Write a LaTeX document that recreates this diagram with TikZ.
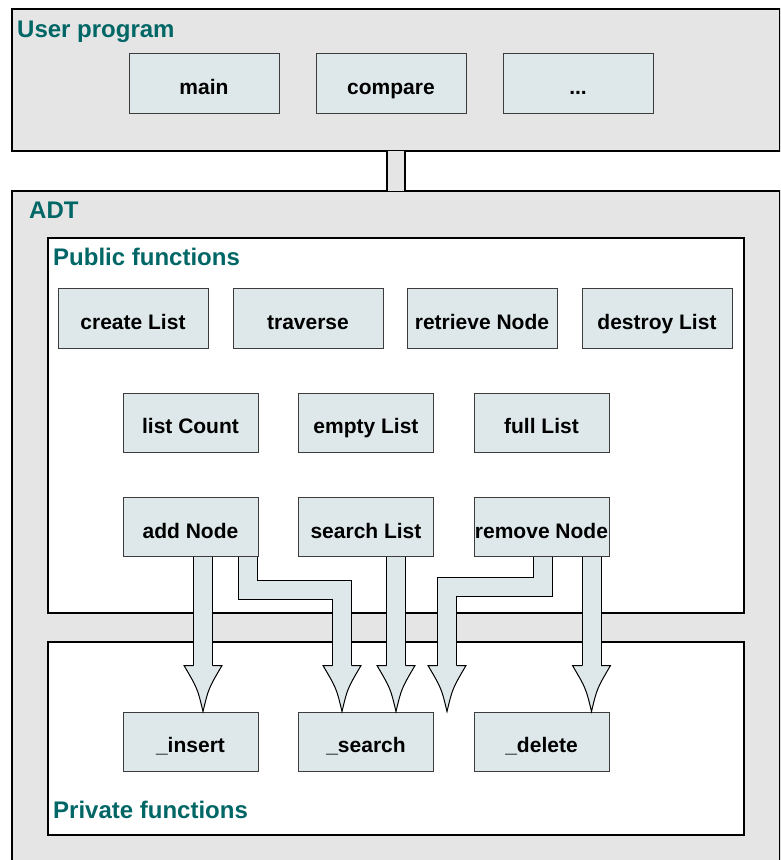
\documentclass[tikz,border=0pt]{standalone}
\usepackage{fontspec}
\setmainfont{Liberation Sans}
\definecolor{panelgray}{RGB}{229,229,229}
\definecolor{boxfill}{RGB}{222,232,234}
\definecolor{boxline}{RGB}{60,60,60}
\definecolor{titleteal}{RGB}{0,102,102}
\tikzset{
  panelbox/.style={draw=black, line width=2pt, fill=panelgray, anchor=north west, inner sep=0pt},
  groupbox/.style={panelbox, fill=white},
  titletext/.style={anchor=base west, inner sep=0pt, text=titleteal, font=\fontsize{24}{28}\selectfont\bfseries},
  fnbox/.style={draw=boxline, line width=1pt, fill=boxfill, minimum width=135pt, minimum height=59pt, inner sep=0pt, text height=22pt, text depth=0pt, font=\fontsize{21}{25}\selectfont\bfseries},
  widebox/.style={fnbox, minimum width=150pt, minimum height=60pt},
  linkstrip/.style={draw=black, line width=2pt, double=panelgray, double distance=16pt},
  shaftline/.style={draw=black, line width=1pt, double=boxfill, double distance=18pt, line join=miter},
  headshape/.style={draw=black, line width=1pt, fill=boxfill, line join=miter}
}
\newcommand{\blockhead}[1]{\filldraw[headshape] ([shift={(-9.5,-46)}]#1) -- ++(-9.5,0) .. controls ([shift={(-5.5,-23)}]#1) .. (#1) .. controls ([shift={(5.5,-23)}]#1) .. ([shift={(19,-46)}]#1) -- ++(-9.5,0);}

\begin{document}
\begin{tikzpicture}[x=1pt,y=-1pt]
\useasboundingbox (0,0) rectangle (780,860);
\clip (0,0) rectangle (780,860);
\node[panelbox, minimum width=768pt, minimum height=142pt] (user) at (11,8) {};
\node[panelbox, minimum width=768pt, minimum height=680pt] (adt) at (11,190) {};
\node[groupbox, minimum width=696pt, minimum height=375pt] (public) at (47,237) {};
\node[groupbox, minimum width=696pt, minimum height=193pt] (private) at (47,641) {};
\draw[linkstrip] ([yshift=1pt]user.south) -- ([yshift=-1pt]adt.north);
\node[titletext] (usertitle) at (17,37) {User program};
\node[titletext] (adttitle) at (29,218) {ADT};
\node[titletext] (publictitle) at (53,265) {Public functions};
\node[titletext] (privatetitle) at (53,818) {Private functions};
\node[widebox] (main) at (204,83) {main};
\node[widebox] (compare) at (391,83) {compare};
\node[widebox] (more) at (578,83) {...};
\node[widebox] (create) at (133,318) {create List};
\node[widebox] (traverse) at (308,318) {traverse};
\node[widebox] (retrieve) at (482,318) {retrieve Node};
\node[widebox] (destroy) at (657,318) {destroy List};
\node[fnbox] (count) at (190.5,422.5) {list Count};
\node[fnbox] (empty) at (366,422.5) {empty List};
\node[fnbox] (full) at (541.5,422.5) {full List};
\node[fnbox] (add) at (190.5,527) {add Node};
\node[fnbox] (search) at (366,527) {search List};
\node[fnbox] (remove) at (541.5,527) {remove Node};
\node[fnbox] (insert) at (190.5,741.5) {\_insert};
\node[fnbox] (psearch) at (366,741.5) {\_search};
\node[fnbox] (delete) at (541.5,741.5) {\_delete};
\coordinate (tipA) at ([xshift=12.5pt]insert.north);
\coordinate (tipB) at ([xshift=-24pt]psearch.north);
\coordinate (tipC) at ([xshift=30pt]psearch.north);
\coordinate (tipD) at ([xshift=81pt]psearch.north);
\coordinate (tipE) at ([xshift=50pt]delete.north);
\draw[shaftline] ([xshift=12.5pt,yshift=.5pt]add.south) -- ([yshift=46pt]tipA);
\draw[shaftline] ([xshift=57pt,yshift=.5pt]add.south) |- ([yshift=122pt]tipB) -- ([yshift=46pt]tipB);
\draw[shaftline] ([xshift=30pt,yshift=.5pt]search.south) -- ([yshift=46pt]tipC);
\draw[shaftline] ([xshift=1pt,yshift=.5pt]remove.south) |- ([yshift=125pt]tipD) -- ([yshift=46pt]tipD);
\draw[shaftline] ([xshift=50pt,yshift=.5pt]remove.south) -- ([yshift=46pt]tipE);
\blockhead{tipA}
\blockhead{tipB}
\blockhead{tipC}
\blockhead{tipD}
\blockhead{tipE}
\end{tikzpicture}
\end{document}
